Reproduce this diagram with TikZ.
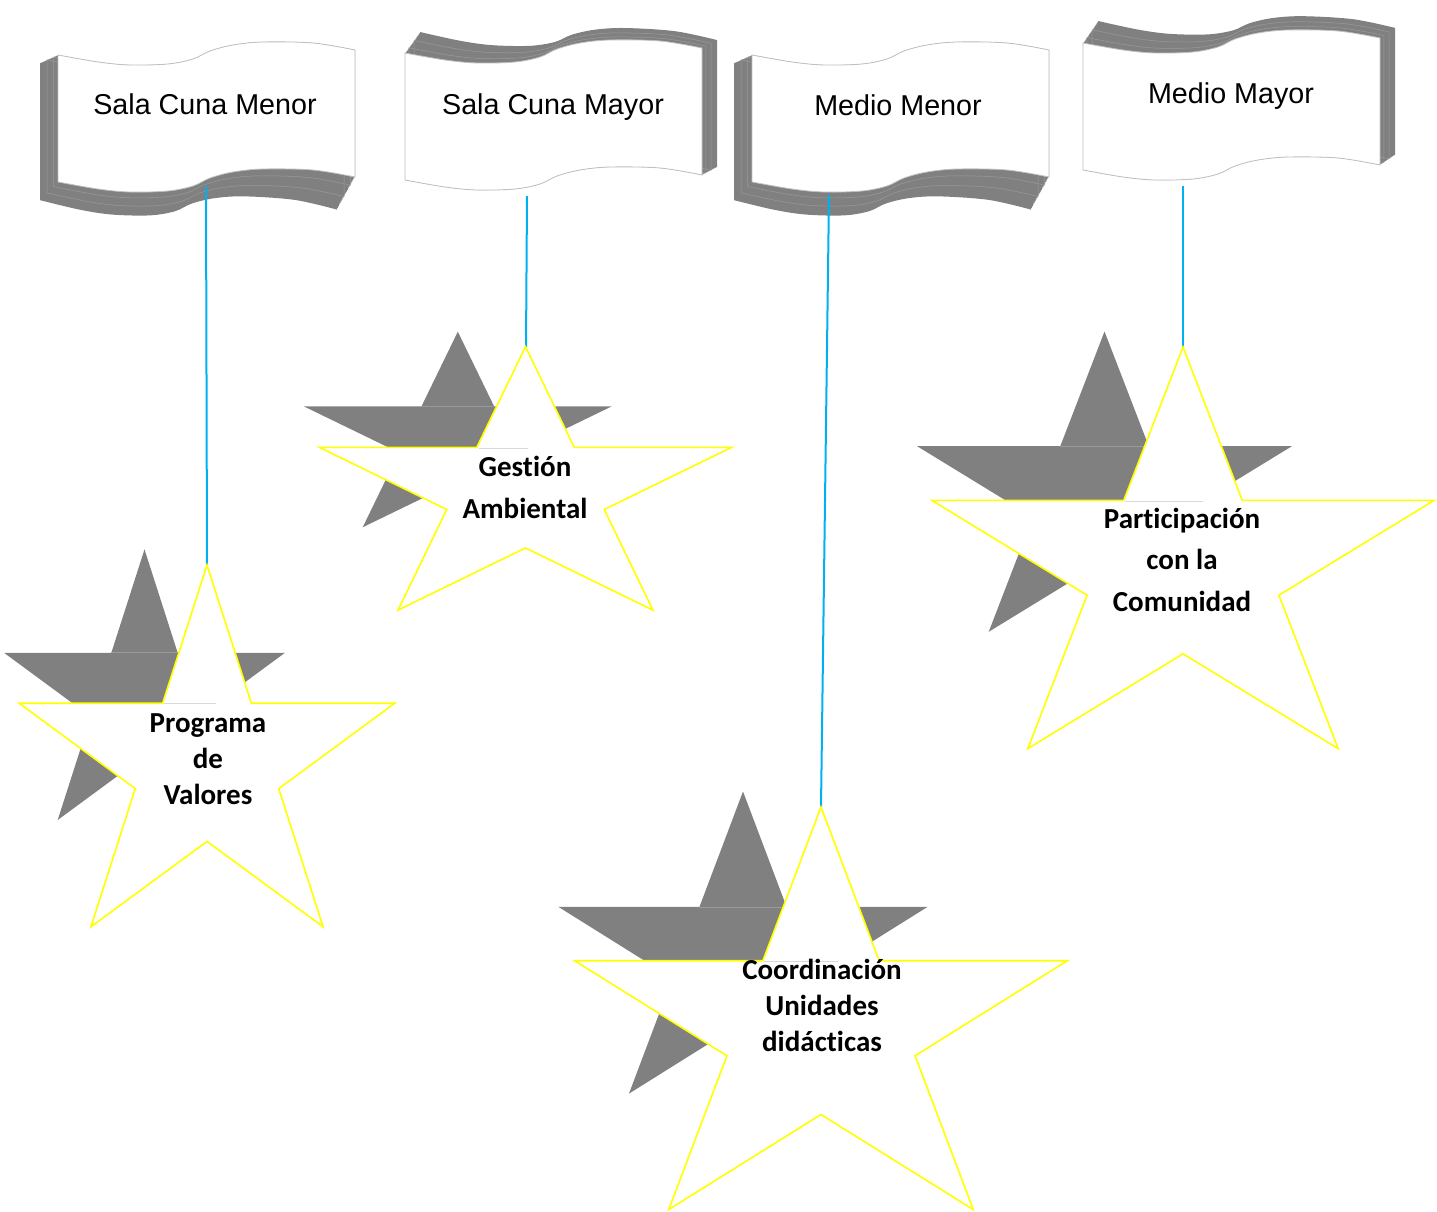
\documentclass[tikz,border=0pt]{standalone}
\usepackage{fontspec}
\setmainfont{Liberation Sans}
\newfontfamily\starfont[Ligatures=NoCommon]{Carlito}
\definecolor{shadowgray}{HTML}{808080}
\definecolor{rib}{HTML}{9A9A9A}
\definecolor{edgegray}{HTML}{BFBFBF}
\definecolor{faint}{HTML}{D9D9D9}
\definecolor{conncol}{HTML}{00B0F0}
\definecolor{staredge}{HTML}{FFFF00}

\newcommand\wavepath{plot[smooth,tension=0.55] coordinates {(0,0) (40,7) (72,10) (110,9) (135,4) (152,-4) (175,-10) (205,-13) (255,-12) (297,-5)} -- plot[smooth,tension=0.55] coordinates {(297,122) (255,115) (205,114) (175,117) (152,123) (135,131) (110,136) (72,137) (40,134) (0,127)} -- cycle}

\newcommand\starshape{(90:1) -- (126:0.382) -- (162:1) -- (198:0.382) -- (234:1) -- (270:0.382) -- (306:1) -- (342:0.382) -- (18:1) -- (54:0.382) -- cycle}

% #1,#2 front top-left; #3,#4 offset of back; #5 slant (px per px); #6 extra y-scale of back
\newcommand\drawbanner[6]{%
  \foreach \i in {20,19,...,0}{%
    \pgfmathsetmacro\bx{#1+(#3)*\i/20}%
    \pgfmathsetmacro\by{#2+(#4)*\i/20}%
    \pgfmathsetmacro\bs{-(#5)*\i/20}%
    \pgfmathsetmacro\bc{1+(#6)*\i/20}%
    \fill[shadowgray, shift={(\bx,\by)}, yslant=\bs, yscale=\bc] \wavepath;
  }%
  \foreach \i in {5,12}{%
    \pgfmathsetmacro\bx{#1+(#3)*\i/20}%
    \pgfmathsetmacro\by{#2+(#4)*\i/20}%
    \pgfmathsetmacro\bs{-(#5)*\i/20}%
    \pgfmathsetmacro\bc{1+(#6)*\i/20}%
    \draw[rib, line width=0.5pt, shift={(\bx,\by)}, yslant=\bs, yscale=\bc] \wavepath;
  }%
  \filldraw[fill=white, draw=edgegray, line width=0.8pt, shift={(#1,#2)}] \wavepath;
}

\tikzset{
  bannertext/.style={font=\fontsize{28.7}{34}\selectfont, inner sep=0pt, text=black},
  startext/.style={font=\starfont\bfseries\fontsize{29}{36}\selectfont, align=center, inner sep=0pt, text=black},
  startextwide/.style={font=\starfont\bfseries\fontsize{29}{41.5}\selectfont, align=center, inner sep=0pt, text=black},
  conn/.style={draw=conncol, line width=2pt},
  shadowstar/.style={fill=shadowgray},
  yellowstar/.style={fill=white, draw=staredge, line width=1.6pt},
  innerline/.style={draw=rib, line width=0.6pt},
  faintline/.style={draw=faint, line width=0.8pt}
}

\begin{document}
\begin{tikzpicture}[x=1pt, y=-1pt]
\useasboundingbox (0,0) rectangle (1437,1212);
\fill[white] (0,0) rectangle (1437,1212);

% ---------- banners ----------
\drawbanner{58}{55}{-18}{8}{0.05}{0.08}
\drawbanner{405}{53}{15}{-21}{0.044}{0}
\drawbanner{752}{55}{-18}{8}{0.05}{0.08}
\drawbanner{1083}{43}{15}{-22}{0.04}{0}

\node[bannertext, anchor=base] (n1) at (205,115) {Sala Cuna Menor};
\node[bannertext, anchor=base] (n2) at (553,114) {Sala Cuna Mayor};
\node[bannertext, anchor=base] (n3) at (898,116) {Medio Menor};
\node[bannertext, anchor=base] (n4) at (1231,104) {Medio Mayor};

% ---------- connector end points ----------
\coordinate (b1) at (206,186);
\coordinate (b2) at (527,196);
\coordinate (b3) at (829,195);
\coordinate (b4) at (1183,186);
\coordinate (s1top) at (207,565);
\coordinate (s2top) at (526,347);
\coordinate (s3top) at (821,807);
\coordinate (s4top) at (1183,347);

\draw[conn] (b1) -- (s1top);
\draw[conn] (b2) -- (s2top);
\draw[conn] (b3) -- (s3top);
\draw[conn] (b4) -- (s4top);

% ---------- star 1 ----------
\fill[shadowstar, shift={(144.5,699)}, xscale=147.7, yscale=-149.6] \starshape;
\draw[innerline, shift={(144.5,699)}, xscale=147.7, yscale=-149.6] (126:0.382) -- (54:0.382);
\filldraw[yellowstar, shift={(207,765)}, xscale=197.5, yscale=-200] \starshape;
\draw[faintline] (164,703.5) -- (216,703.5);

% ---------- star 2 ----------
\fill[shadowstar, shift={(457.8,439.8)}, xscale=161.8, yscale=-108.1] \starshape;
\draw[innerline, shift={(457.8,439.8)}, xscale=161.8, yscale=-108.1] (126:0.382) -- (54:0.382);
\filldraw[yellowstar, shift={(525.5,492.3)}, xscale=216.8, yscale=-145.6] \starshape;
\draw[faintline] (479,448) -- (528,448);

% ---------- star 3 ----------
\fill[shadowstar, shift={(743,958.5)}, xscale=194, yscale=-167] \starshape;
\draw[innerline, shift={(743,958.5)}, xscale=194, yscale=-167] (126:0.382) -- (54:0.382);
\filldraw[yellowstar, shift={(821,1029.5)}, xscale=259, yscale=-222.5] \starshape;
\draw[faintline] (764,961.5) -- (838,961.5);

% ---------- star 4 ----------
\fill[shadowstar, shift={(1104.5,497.5)}, xscale=197, yscale=-166] \starshape;
\draw[innerline, shift={(1104.5,497.5)}, xscale=197, yscale=-166] (126:0.382) -- (54:0.382);
\filldraw[yellowstar, shift={(1183,569)}, xscale=264, yscale=-222] \starshape;
\draw[faintline] (1125,501) -- (1203,501);

% ---------- star texts ----------
\node[startext] (t1) at (208,759.6) {Programa\\de\\Valores};
\node[startextwide] (t2) at (525,487.5) {Gestión\\Ambiental};
\node[startext] (t3) at (822,1005) {Coordinación\\Unidades\\didácticas};
\node[startextwide] (t4) at (1182,559.5) {Participación\\con la\\Comunidad};
\end{tikzpicture}
\end{document}
